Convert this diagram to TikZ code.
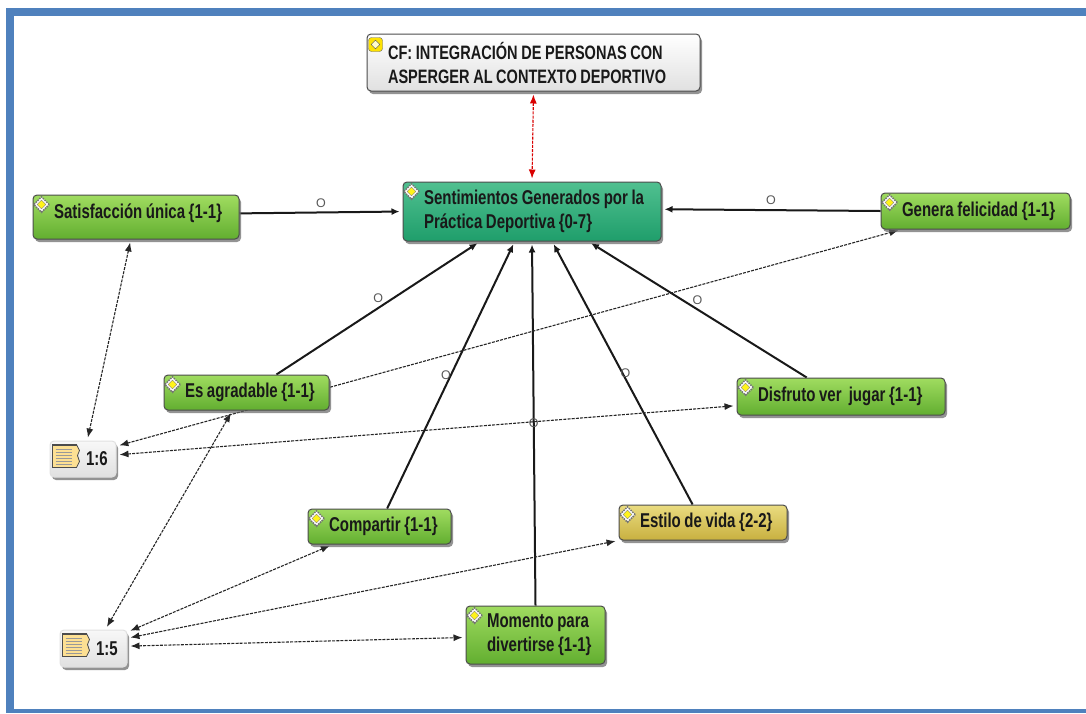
\documentclass[tikz,border=0pt]{standalone}
\usepackage{fontspec}
\usetikzlibrary{calc,shapes.geometric,shadows,arrows.meta,backgrounds}
\newfontfamily\boxfont[FakeStretch=.75]{Liberation Sans}
\newfontfamily\linkfont{Liberation Sans}
\definecolor{frameblue}{HTML}{4F81BD}
\definecolor{greentop}{HTML}{A0DC60}
\definecolor{greenlow}{HTML}{62AE30}
\definecolor{tealtop}{HTML}{50C090}
\definecolor{teallow}{HTML}{1F9E6B}
\definecolor{goldtop}{HTML}{EADC80}
\definecolor{goldlow}{HTML}{C8B040}
\tikzset{
  boxnode/.style 2 args={draw=black!70, line width=1pt, rounded corners=4pt, inner xsep=0pt, inner ysep=0pt,
    text width=#1pt, minimum height=#2pt,
    font=\boxfont\bfseries\fontsize{20}{24}\selectfont, text=black!90,
    drop shadow={shadow xshift=2pt, shadow yshift=-3pt, fill=black!60, opacity=.7},
    execute at begin node={\leftskip=\boxpad\rightskip=0pt plus 1fil\parindent=0pt\spaceskip=3.6pt}},
  greenbox/.style={top color=greentop, bottom color=greenlow},
  tealbox/.style={top color=tealtop, bottom color=teallow},
  yellowbox/.style={top color=goldtop, bottom color=goldlow},
  graybox/.style={top color=white, bottom color=black!12},
  notebox/.style={top color=black!3, bottom color=black!12, draw=black!12},
  strong/.style={line width=2pt, black!90, -{Latex[length=8pt,width=7pt]}, shorten >=3pt},
  weak/.style={line width=1.1pt, black!85, dash pattern=on 3pt off 1.2pt, {Latex[length=9pt,width=7pt]}-{Latex[length=9pt,width=7pt]}, shorten >=3pt, shorten <=3pt},
  redlink/.style={weak, red!85!black},
  olabel/.style={font=\linkfont\fontsize{12.5}{12.5}\selectfont, text=black!65, inner sep=0pt},
  codeicon/.style={diamond, draw=black!55, densely dotted, line width=1.5pt, fill=white, minimum size=16pt, inner sep=0pt},
  codecore/.style={diamond, draw=black!50, line width=.4pt, fill=yellow!90!white, minimum size=9pt, inner sep=0pt},
}
\newlength{\boxpad}
\setlength{\boxpad}{21pt}
\begin{document}
\begin{tikzpicture}[x=1pt,y=-1pt]
\useasboundingbox (0,0) rectangle (1086,713);
\fill[frameblue] (6,8) rectangle (1086,16);
\fill[frameblue] (6,8) rectangle (14,713);
\fill[frameblue] (6,709) rectangle (1086,713);

% families
\node [boxnode={333}{57}, graybox, font=\boxfont\bfseries\fontsize{19.4}{24}\selectfont] (family) at (533.5,62.5) {CF: INTEGRACIÓN DE PERSONAS CON\\ASPERGER AL CONTEXTO DEPORTIVO};
\node [boxnode={258}{59}, tealbox] (sent) at (532,211.5) {Sentimientos Generados por la\\Práctica Deportiva \{0-7\}};

% codes
\node [boxnode={206}{44}, greenbox] (satis) at (136,217) {Satisfacción única \{1-1\}\rule[-12pt]{0pt}{12pt}};
\node [boxnode={189}{36}, greenbox] (genera) at (975.5,211) {Genera felicidad \{1-1\}};
\node [boxnode={165}{35}, greenbox] (agrad) at (246.5,392.5) {Es agradable \{1-1\}};
\node [boxnode={208}{37}, greenbox] (disfruto) at (841,396.5) {Disfruto ver\ \ jugar \{1-1\}};
\node [boxnode={143}{35}, greenbox] (compartir) at (379.5,526.5) {Compartir \{1-1\}};
\node [boxnode={168}{35}, yellowbox] (estilo) at (703,522.5) {Estilo de vida \{2-2\}};
\node [boxnode={139}{58}, greenbox] (momento) at (535.5,635) {Momento para\\divertirse \{1-1\}};

% quotations
\setlength{\boxpad}{36pt}
\node [boxnode={66}{36}, notebox] (noteA) at (83,459) {1:6};
\node [boxnode={67}{37}, notebox] (noteB) at (93.5,648.5) {1:5};

\foreach \n in {sent,satis,genera,agrad,disfruto,compartir,estilo,momento} {
  \node [codeicon] (icon\n) at ($(\n.north west)+(9,10)$) {};
  \node [codecore] (core\n) at (icon\n) {};
}
\node [draw=black!60, fill=yellow!85!orange, rounded corners=3pt, minimum size=14pt, inner sep=0pt] (iconfamily) at ($(family.north west)+(9,11)$) {};
\node [diamond, draw=black!70, fill=yellow!20, minimum size=9pt, inner sep=0pt] (iconinner) at (iconfamily) {};

\foreach \n in {noteA,noteB} {
  \draw [fill=yellow!45!orange!40!white, draw=black!70, line width=.8pt]
    ($(\n.north west)+(3,4)$) -- ++(24,0) -- ++(3,6) -- ++(-2,5) -- ++(2,6) -- ++(-3,6) -- ++(-24,0) -- cycle;
  \fill [black!70] ($(\n.north west)+(3,4)$) rectangle ++(24,1.5);
  \foreach \k in {9,12,15,18,21,24}
    \draw [black!40, line width=.5pt] ($(\n.north west)+(6,\k)$) -- ++(16,0);
}

\begin{scope}[on background layer]
\fill[white] (14,16) rectangle (1086,709);
\draw [strong] (satis.2) -- node [olabel, midway, yshift=9.5pt] (o1) {O} (sent.west);
\draw [strong] (genera.180) -- node [olabel, midway, yshift=10pt] (o2) {O} (sent.1);
\draw [strong] (agrad.31) -- node [olabel, midway, yshift=10pt] (o3) {O} (sent.210);
\draw [strong] (compartir.67) -- node [olabel, midway, xshift=-5pt] (o4) {O} (sent.240);
\draw [strong] (momento.north) -- node [olabel, midway] (o5) {O} (sent.270);
\draw [strong] (estilo.120) -- node [olabel, midway, xshift=3pt] (o6) {O} (sent.304);
\draw [strong] (disfruto.151) -- node [olabel, midway, yshift=9.5pt] (o7) {O} (sent.332);

\draw [redlink] (family.south) -- (sent.north);
\draw [weak] (satis.257) -- (noteA.77);
\draw [weak] (noteA.21) -- (genera.194);
\draw [weak] (noteA.7) -- (disfruto.185);
\draw [weak] (noteB.58) -- (agrad.232);
\draw [weak] (noteB.26) -- (compartir.201);
\draw [weak] (noteB.17) -- (estilo.south west);
\draw [weak] (noteB.4) -- (momento.182);
\end{scope}
\end{tikzpicture}
\end{document}
